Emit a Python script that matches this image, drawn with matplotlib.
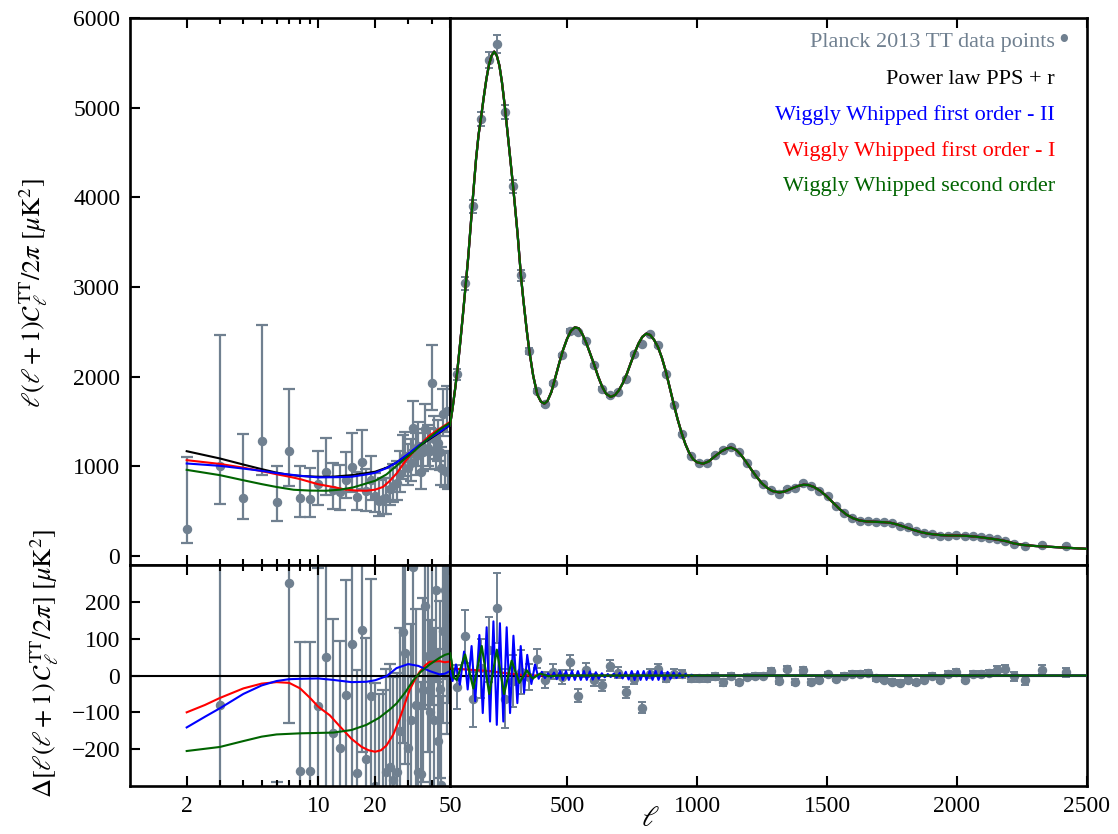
import matplotlib
matplotlib.use('Agg')
import matplotlib.pyplot as plt

plt.rcParams['font.family'] = ['Liberation Serif', 'DejaVu Serif']
plt.rcParams['mathtext.fontset'] = 'stix'

# colours
c_data = '#708090'
c_blue = '#0000ff'
c_red = '#ff0000'
c_green = '#006400'

# ---- Planck 2013 low-ell points (unbinned) ----
low_ell = list(range(2, 50))
low_D = [301, 1006, 646, 1284, 605, 1166, 642, 635, 802, 939, 735, 709, 846, 995, 653, 1050,
         728, 850, 672, 616, 635, 642, 746, 783, 820, 913, 1080, 1117, 987, 1043, 1433, 1117,
         1229, 932, 1155, 1414, 1210, 1173, 1934, 1303, 1173, 1266, 1155, 987, 1581, 950, 1618, 932]
low_err_lo = [156, 427, 234, 379, 219, 383, 204, 197, 234, 260, 212, 193, 203, 286, 141, 304,
              223, 220, 180, 170, 170, 170, 180, 180, 190, 200, 220, 220, 200, 210, 250, 210,
              220, 190, 210, 230, 210, 200, 300, 220, 200, 210, 200, 190, 240, 180, 240, 180]
low_err_hi = [798, 1455, 720, 1292, 401, 701, 357, 349, 371, 372, 301, 308, 309, 375, 286, 353,
              240, 260, 250, 230, 230, 230, 240, 240, 240, 260, 270, 270, 260, 260, 300, 260,
              270, 240, 260, 280, 250, 250, 420, 260, 240, 250, 240, 230, 280, 220, 280, 220]
low_res = [-868, -79, -380, 380, -330, 252, -258, -258, -84, 51, -155, -196, -52, 85, -265, 123,
           -228, -57, -300, -330, -320, -263, -248, -285, -263, -150, 118, 60, -198, -120, 295, -80,
           -262, -267, -40, 190, 53, -100, 340, -120, 231, -177, -38, -297, 120, 231, 80, 155]
low_res_err = [300, 1400, 60, 60, 40, 380, 350, 348, 376, 400, 308, 290, 310, 400, 280, 330,
               330, 320, 280, 280, 280, 280, 280, 280, 270, 280, 300, 300, 260, 260, 300, 260,
               260, 250, 250, 280, 260, 250, 420, 250, 250, 250, 240, 240, 250, 240, 240, 230]

# ---- Planck 2013 binned high-ell points ----
hi_ell = [78, 108, 137, 168, 199, 230, 261, 292, 323, 355,
          386, 417, 448, 479, 510, 541, 572, 603, 634, 665,
          696, 727, 758, 789, 820, 851, 882, 913, 944, 975,
          1006, 1037, 1068, 1099, 1130, 1161, 1192, 1223, 1254, 1285,
          1316, 1347, 1378, 1409, 1440, 1471, 1502, 1533, 1564, 1595,
          1626, 1657, 1688, 1719, 1750, 1781, 1812, 1843, 1874, 1905,
          1936, 1967, 1998, 2029, 2060, 2091, 2122, 2153, 2184, 2218,
          2262, 2328, 2420]
hi_D = [2027, 3040, 3900, 4874, 5535, 5710, 4951, 4124, 3129, 2287,
        1841, 1693, 1926, 2238, 2509, 2498, 2398, 2127, 1867, 1793,
        1830, 1971, 2249, 2361, 2472, 2350, 2034, 1681, 1358, 1117,
        1032, 1043, 1125, 1180, 1221, 1155, 1043, 913, 802, 738,
        690, 746, 754, 813, 776, 727, 665, 560, 479, 423,
        393, 390, 375, 375, 364, 338, 320, 282, 256, 245,
        226, 226, 237, 219, 219, 208, 197, 189, 170, 134,
        108, 126, 108]
hi_res = [-31, 106, -65, 20, 70, 183, -63, -15, 10, -5,
          46, -13, 10, -4, 36, -55, 15, -13, -27, 26,
          8, -46, -9, -87, 5, 18, -6, 5, 5, -8,
          -8, -8, -2, -19, -2, -19, -5, -2, 0, 12,
          -14, 19, -18, 14, -17, -13, 3, -9, 0, 5,
          5, 7, -8, -11, -17, -20, -13, -18, -13, 0,
          -11, 3, 10, -11, 3, 5, 7, 16, 19, -2,
          -13, 16, 9]
hi_err = [60, 73, 75, 80, 88, 95, 80, 70, 60, 35,
          26, 22, 20, 20, 20, 18, 18, 16, 16, 15,
          14, 14, 13, 14, 13, 14, 12, 12, 11, 10,
          10, 9, 9, 9, 8, 8, 8, 8, 8, 8,
          8, 8, 8, 8, 8, 7, 7, 7, 7, 7,
          7, 7, 7, 7, 7, 7, 7, 7, 7, 7,
          7, 8, 8, 8, 8, 8, 8, 9, 10, 12,
          12, 12, 12]

# ---- best-fit spectra, low ell ----
black_ell_lo = [2, 3, 4, 5, 6, 7, 8, 10, 12, 15, 18, 20, 23, 26, 30, 34.5, 40, 45, 50]
black_D_lo = [1169, 1088, 1020, 969, 930, 905, 893, 884, 885, 902, 925, 940, 985, 1043, 1130,
              1229, 1320, 1390, 1460]
blue_ell_lo = [2, 3, 4, 5, 6, 8, 10, 13, 15, 18, 20, 23, 26, 30, 34.5, 40, 45, 50]
blue_D_lo = [1032, 1006, 975, 950, 925, 895, 877, 880, 884, 910, 928, 980, 1043, 1140, 1240,
             1330, 1395, 1465]
red_ell_lo = [2, 3, 4, 5, 6, 7, 8, 10, 12, 14, 16, 18, 20, 22, 24, 26, 29, 32, 35, 39, 44, 50]
red_D_lo = [1069, 1027, 985, 947, 912, 885, 858, 800, 770, 740, 730, 728, 740, 770, 840, 920,
            1060, 1162, 1250, 1345, 1420, 1495]
green_ell_lo = [2, 3, 4, 5, 6, 7.4, 9, 11, 13, 15.3, 18, 20, 23, 26, 29, 32, 35, 39, 44, 50]
green_D_lo = [961, 902, 845, 802, 770, 739, 730, 728, 740, 765, 810, 839, 910, 1006, 1090, 1162,
              1240, 1322, 1410, 1485]

# ---- best-fit spectrum, high ell ----
model_ell = [50, 60, 70, 78, 90, 100, 108, 120, 130, 137, 150, 160, 168, 180, 190, 200, 210, 220,
             230, 240, 250, 261, 270, 280, 292, 300, 310, 323, 332, 345, 355, 370, 386, 400, 413,
             425, 440, 455, 470, 485, 500, 515, 530, 545, 560, 575, 590, 605, 620, 635, 650, 668,
             685, 700, 715, 730, 745, 760, 775, 790, 805, 820, 835, 850, 865, 880, 895, 910, 925,
             940, 955, 970, 985, 1000, 1024, 1045, 1070, 1095, 1115, 1131, 1150, 1170, 1190, 1210,
             1230, 1250, 1270, 1290, 1317, 1340, 1365, 1390, 1410, 1428, 1450, 1475, 1500, 1525,
             1550, 1575, 1600, 1625, 1653, 1690, 1720, 1745, 1770, 1800, 1830, 1860, 1890, 1935,
             1970, 2000, 2037, 2070, 2100, 2130, 2160, 2190, 2217, 2250, 2300, 2350, 2400, 2450,
             2500]
model_D = [1460, 1650, 1870, 2060, 2400, 2700, 2950, 3330, 3700, 3960, 4420, 4700, 4860, 5120,
           5320, 5480, 5580, 5625, 5580, 5470, 5280, 5010, 4760, 4480, 4140, 3900, 3590, 3120,
           2860, 2520, 2290, 2010, 1800, 1720, 1700, 1730, 1830, 1990, 2150, 2300, 2420, 2510,
           2550, 2540, 2470, 2370, 2250, 2130, 2000, 1890, 1810, 1775, 1795, 1850, 1930, 2030,
           2150, 2265, 2370, 2445, 2480, 2465, 2410, 2330, 2210, 2060, 1880, 1700, 1530, 1380,
           1250, 1150, 1080, 1045, 1030, 1055, 1115, 1170, 1200, 1210, 1185, 1125, 1045, 960,
           880, 810, 760, 725, 709, 722, 755, 782, 795, 792, 770, 725, 662, 590, 520, 462, 422,
           397, 385, 381, 377, 370, 352, 323, 293, 267, 249, 234, 229, 228, 225, 217, 206, 194,
           181, 165, 142, 125, 112, 104, 96, 88, 80]

# ---- residuals w.r.t. power law PPS + r ----
blue_ell_rlo = [2, 2.5, 3, 4, 5, 6, 7, 8, 10, 12, 15, 18, 20, 23, 26, 30, 34, 39, 44, 47, 50]
blue_R_lo = [-141, -112, -89, -50, -27, -15, -10, -9, -8, -12, -18, -17, -13, -2, 20, 31, 26, 12,
             3, 5, 12]
red_ell_rlo = [2, 2.5, 3, 4, 5, 6, 7, 8, 9, 10, 11.5, 13, 15, 17, 18.5, 20, 21.5, 23, 25, 27,
               29, 30.6, 32.5, 34.5, 37, 39, 44, 47, 50]
red_R_lo = [-100, -80, -61, -35, -22, -18, -20, -35, -60, -85, -108, -138, -172, -194, -203, -207,
            -203, -190, -160, -118, -72, -38, -12, 10, 28, 37, 39, 36, 38]
green_ell_rlo = [2, 3, 4, 5, 6, 8, 12, 15, 18, 21, 24, 26, 29, 32, 35, 39, 44, 47, 50]
green_R_lo = [-205, -194, -178, -166, -160, -157, -155, -148, -134, -115, -92, -76, -45, -12, 10,
              30, 48, 56, 60]

blue_ell_rhi = [50, 60, 73, 88, 104, 118, 133, 147, 163, 176, 191, 204, 217, 230, 242, 255, 268,
                281, 294, 309, 322, 335, 347, 363, 377, 391, 403, 415, 427, 438, 450, 461, 473,
                484, 496, 507, 519, 530, 542, 553, 565, 576, 588, 599, 611, 622, 634, 645, 657,
                668, 680, 691, 703, 714, 726, 737, 749, 760, 772, 783, 795, 806, 818, 829, 841,
                852, 864, 875, 887, 898, 910, 921, 933, 944, 956, 967, 979, 990, 1000, 2500]
blue_R_hi = [12, -15, 30, -25, 65, -38, 80, -70, 110, -102, 131, -125, 147, -134, 142, -125, 131,
             -102, 108, -75, 80, -47, 56, -23, 30, -9, 10, -7, 6, -6, 8, -10, 12, -12, 12, -12,
             12, -12, 12, -12, 12, -12, 11, -11, 9, -9, 6, -5, 4, -4, 5, -6, 7, -8, 10, -11, 12,
             -12, 12, -12, 12, -12, 12, -12, 12, -12, 11, -11, 10, -9, 8, -7, 6, -5, 4, -3, 2,
             -1, 0, 0]
red_ell_rhi = [50, 53, 58, 100, 200, 280, 350, 2500]
red_R_hi = [38, 30, 18, 17, 12, 5, 0, 0]
green_ell_rhi = [50, 56, 63, 76, 108, 140, 172, 201, 230, 258, 287, 317, 345, 368, 396, 430, 470,
                 2500]
green_R_hi = [60, 40, -5, -12, 57, -35, 80, -50, 70, -50, 40, -20, 14, -8, 5, -2, 0, 0]

legend_items = [('Power law PPS + r', 'black'),
                ('Wiggly Whipped first order - II', c_blue),
                ('Wiggly Whipped first order - I', c_red),
                ('Wiggly Whipped second order', c_green)]

# ---- figure layout ----
W, H = 1118, 834
fig = plt.figure(figsize=(W / 100, H / 100), dpi=100)
x0, xd, x1 = 130 / W, 450 / W, 1087 / W
top_b, top_h = 1 - 565 / H, (565 - 18) / H
bot_b, bot_h = 1 - 786 / H, (786 - 565) / H

ax_tl = fig.add_axes([x0, top_b, xd - x0, top_h])
ax_tr = fig.add_axes([xd, top_b, x1 - xd, top_h])
ax_bl = fig.add_axes([x0, bot_b, xd - x0, bot_h])
ax_br = fig.add_axes([xd, bot_b, x1 - xd, bot_h])


def style(ax, logx):
    for s in ax.spines.values():
        s.set_linewidth(1.9)
    ax.tick_params(which='both', direction='in', top=True, bottom=True, left=True, right=False,
                   labelsize=17, width=1.5, pad=7)
    ax.tick_params(which='major', length=7)
    ax.tick_params(which='minor', length=4)
    if logx:
        ax.set_xscale('log')
        ax.set_xlim(1, 50)
        ax.set_xticks([2, 10, 20, 50])
        ax.set_xticks([3, 4, 5, 6, 7, 8, 9, 30, 40], minor=True)
        ax.set_xticklabels(['2', '10', '20', '50'])
        ax.xaxis.set_minor_formatter(plt.NullFormatter())
    else:
        ax.set_xlim(50, 2500)
        ax.set_xticks([500, 1000, 1500, 2000, 2500])
        ax.tick_params(axis='y', left=False, labelleft=False)


for ax in (ax_tl, ax_tr):
    ax.set_ylim(-100, 6000)
for ax in (ax_bl, ax_br):
    ax.set_ylim(-300, 300)
style(ax_tl, True)
style(ax_bl, True)
style(ax_tr, False)
style(ax_br, False)
ax_tl.set_yticks([0, 1000, 2000, 3000, 4000, 5000, 6000])
ax_bl.set_yticks([-200, -100, 0, 100, 200])
for ax in (ax_tl, ax_tr):
    ax.tick_params(labelbottom=False)

# ---- top panel ----
ax_tl.errorbar(low_ell, low_D, yerr=[low_err_lo, low_err_hi], fmt='o', color=c_data, ms=5.8,
               elinewidth=1.6, capsize=4, capthick=1.6, zorder=1)
ax_tl.plot(black_ell_lo, black_D_lo, color='black', lw=1.5, zorder=3)
ax_tl.plot(red_ell_lo, red_D_lo, color=c_red, lw=1.5, zorder=3)
ax_tl.plot(blue_ell_lo, blue_D_lo, color=c_blue, lw=1.5, zorder=3)
ax_tl.plot(green_ell_lo, green_D_lo, color=c_green, lw=1.5, zorder=3)

ax_tr.errorbar(hi_ell, hi_D, yerr=hi_err, fmt='o', color=c_data, ms=5.8, elinewidth=1.4,
               capsize=3, capthick=1.4, zorder=1)
ax_tr.plot(model_ell, model_D, color='black', lw=1.6, zorder=3)
ax_tr.plot(model_ell, model_D, color=c_blue, lw=1.6, zorder=3)
ax_tr.plot(model_ell, model_D, color=c_red, lw=1.6, zorder=3)
ax_tr.plot(model_ell, model_D, color=c_green, lw=1.6, zorder=3)

# ---- residual panel ----
ax_bl.errorbar(low_ell, low_res, yerr=low_res_err, fmt='o', color=c_data, ms=5.8,
               elinewidth=1.6, capsize=4, capthick=1.6, zorder=1)
ax_bl.axhline(0, color='black', lw=1.5, zorder=2)
ax_bl.plot(red_ell_rlo, red_R_lo, color=c_red, lw=1.5, zorder=3)
ax_bl.plot(blue_ell_rlo, blue_R_lo, color=c_blue, lw=1.5, zorder=3)
ax_bl.plot(green_ell_rlo, green_R_lo, color=c_green, lw=1.5, zorder=3)

ax_br.errorbar(hi_ell, hi_res, yerr=hi_err, fmt='o', color=c_data, ms=5.8, elinewidth=1.4,
               capsize=3, capthick=1.4, zorder=1)
ax_br.axhline(0, color='black', lw=1.5, zorder=2)
ax_br.plot(red_ell_rhi, red_R_hi, color=c_red, lw=1.6, zorder=3)
ax_br.plot(blue_ell_rhi, blue_R_hi, color=c_blue, lw=1.5, zorder=4)
ax_br.plot(green_ell_rhi, green_R_hi, color=c_green, lw=1.6, zorder=5)

# ---- labels ----
fig.text(0.030, 0.648, r'$\ell(\ell+1)\mathcal{C}_\ell^{\,\mathrm{TT}}/2\pi\ [\mu\mathrm{K}^2]$',
         rotation=90, ha='center', va='center', fontsize=19)
fig.text(0.040, 0.205,
         r'$\Delta[\ell(\ell+1)\,\mathcal{C}_\ell^{\,\mathrm{TT}}/2\pi]\ [\mu\mathrm{K}^2]$',
         rotation=90, ha='center', va='center', fontsize=19)
fig.text(650 / W, 0.002, r'$\ell$', ha='center', va='bottom', fontsize=21)

# legend as coloured text
lx = 1055 / W
fig.text(lx, 1 - 43 / H, 'Planck 2013 TT data points', color=c_data, ha='right', va='center',
         fontsize=16)
fig.text(lx + 3 / W, 1 - 42 / H, '\u2022', color=c_data, ha='left', va='center', fontsize=22)
for i, (lab, col) in enumerate(legend_items):
    fig.text(lx, 1 - (80 + 35.5 * i) / H, lab, color=col, ha='right', va='center', fontsize=16)

fig.savefig('out.png', dpi=100)
